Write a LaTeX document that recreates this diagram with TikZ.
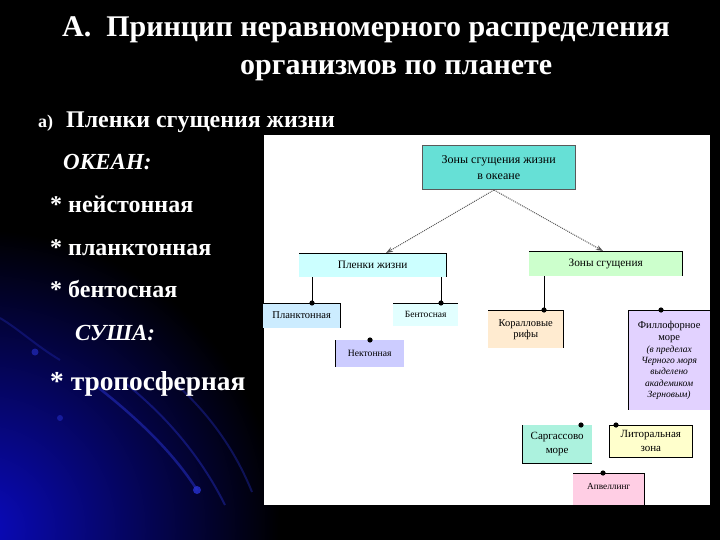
\documentclass[tikz,border=0pt]{standalone}
\usepackage{fontspec}
\setmainfont{Liberation Serif}
\usetikzlibrary{arrows.meta}
\definecolor{cTop}{RGB}{102,224,214}
\definecolor{cPlenki}{RGB}{204,255,255}
\definecolor{cZony}{RGB}{204,255,204}
\definecolor{cPlank}{RGB}{204,236,255}
\definecolor{cBentos}{RGB}{226,255,255}
\definecolor{cNekt}{RGB}{204,204,255}
\definecolor{cKoral}{RGB}{255,235,208}
\definecolor{cFillo}{RGB}{226,210,255}
\definecolor{cSarg}{RGB}{172,242,222}
\definecolor{cLitor}{RGB}{255,255,204}
\definecolor{cApvel}{RGB}{255,206,228}
\definecolor{glow}{RGB}{10,10,190}
\definecolor{arcblue}{RGB}{40,50,210}
\tikzset{
  bx/.style={anchor=north west, inner sep=0pt, align=center, font=\fontsize{9}{11}\selectfont},
  edge/.style={draw=black, line width=0.7pt},
  conn/.style={draw=black, line width=0.9pt},
  dconn/.style={draw=black, line width=0.5pt, double=white, double distance=1.3pt},
  arr/.style={draw=black!65, line width=1pt, densely dotted, -{Stealth[length=7pt,width=5pt]}},
  dotm/.style={fill=black},
  head/.style={text=white, font=\bfseries, anchor=base west, inner sep=0pt}
}
\begin{document}
\begin{tikzpicture}[x=1pt,y=-1pt]
\useasboundingbox (0,0) rectangle (720,540);
% background
\fill[black] (0,0) rectangle (720,540);
\begin{scope}
\clip (0,0) rectangle (720,540);
\shade[inner color=glow, outer color=black] (-20,530) circle (300);
\draw[arcblue, opacity=0.5, line width=2.5pt] (95,385) .. controls (140,420) and (175,455) .. (197,490);
\draw[arcblue, opacity=0.4, line width=2pt] (125,383) .. controls (165,415) and (200,455) .. (225,505);
\draw[arcblue, opacity=0.35, line width=2pt] (175,383) .. controls (210,415) and (235,450) .. (252,492);
\draw[arcblue, opacity=0.3, line width=2pt] (0,318) .. controls (20,330) and (35,345) .. (60,360);
\fill[arcblue, opacity=0.8] (197,490) circle (4);
\fill[arcblue, opacity=0.6] (35,352) circle (3.5);
\fill[arcblue, opacity=0.5] (60,418) circle (3);
\end{scope}
% left texts
\node[head, font=\fontsize{30}{32}\bfseries\selectfont] (t1) at (62,37) {А.\ \ Принцип неравномерного распределения};
\node[head, font=\fontsize{30}{32}\bfseries\selectfont] (t2) at (240,75) {организмов по планете};
\node[head, font=\fontsize{18}{20}\bfseries\selectfont] (t3) at (38,128) {а)};
\node[head, font=\fontsize{23.9}{25}\bfseries\selectfont] (t4) at (66,128) {Пленки сгущения жизни};
\node[head, font=\fontsize{23}{25}\bfseries\itshape\selectfont] (t5) at (63,170) {ОКЕАН:};
\node[head, font=\fontsize{24}{26}\bfseries\selectfont] (t6) at (50,213) {* нейстонная};
\node[head, font=\fontsize{24}{26}\bfseries\selectfont] (t7) at (50,255) {* планктонная};
\node[head, font=\fontsize{24}{26}\bfseries\selectfont] (t8) at (50,297) {* бентосная};
\node[head, font=\fontsize{23}{25}\bfseries\itshape\selectfont] (t9) at (75,340) {СУША:};
\node[head, font=\fontsize{27.4}{29}\bfseries\selectfont] (t10) at (50,390) {* тропосферная};
% white panel
\fill[white] (264,135) rectangle (710,505);
% boxes
\node[bx, fill=cTop, draw=black!65, minimum width=153pt, minimum height=44pt, font=\fontsize{12}{16}\selectfont] (top) at (422,145) {\raisebox{2pt}{\parbox{150pt}{\centering Зоны сгущения жизни\\в океане}}};
\node[bx, fill=cPlenki, minimum width=147pt, minimum height=24pt, font=\fontsize{11.3}{13}\selectfont] (plenki) at (299,253) {Пленки жизни};
\node[bx, fill=cZony, minimum width=153pt, minimum height=25pt, font=\fontsize{11.3}{13}\selectfont] (zony) at (529,251) {\raisebox{1pt}{Зоны сгущения}};
\node[bx, fill=cPlank, minimum width=77pt, minimum height=25pt, font=\fontsize{10.5}{12}\selectfont] (plank) at (263,303) {\raisebox{2pt}{Планктонная}};
\node[bx, fill=cBentos, minimum width=65pt, minimum height=23pt, font=\fontsize{9.5}{11}\selectfont] (bentos) at (393,303) {\raisebox{1pt}{Бентосная}};
\node[bx, fill=cNekt, minimum width=69pt, minimum height=27pt, font=\fontsize{9.6}{11}\selectfont] (nekt) at (335,340) {\raisebox{1pt}{Нектонная}};
\node[bx, fill=cKoral, minimum width=75pt, minimum height=38pt, font=\fontsize{10.5}{11}\selectfont] (koral) at (488,310) {\raisebox{2pt}{\parbox{73pt}{\centering Коралловые\\рифы}}};
\node[bx, fill=cFillo, minimum width=82pt, minimum height=100pt, font=\fontsize{10.5}{12.5}\selectfont] (fillo) at (628,310) {\raisebox{4pt}{\parbox{80pt}{\centering Филлофорное\\море\\\fontsize{9.5}{11.3}\selectfont\itshape (в пределах\\Черного моря\\выделено\\академиком\\Зерновым)}}};
\node[bx, fill=cSarg, minimum width=70pt, minimum height=38pt, font=\fontsize{11}{14}\selectfont] (sarg) at (522,425) {\raisebox{2pt}{\parbox{68pt}{\centering Саргассово\\море}}};
\node[bx, fill=cLitor, draw=black, line width=0.6pt, minimum width=83pt, minimum height=32pt, font=\fontsize{11}{14}\selectfont] (litor) at (609,425) {Литоральная\\зона};
\node[bx, fill=cApvel, minimum width=71pt, minimum height=32pt, font=\fontsize{9.3}{11}\selectfont] (apvel) at (573,473) {\raisebox{5pt}{Апвеллинг}};
% box edges
\draw[edge] (plenki.north west) -- (plenki.north east) -- (plenki.south east);
\draw[edge] (zony.north west) -- (zony.north east) -- (zony.south east);
\draw[edge] (plank.north west) -- (plank.north east) -- (plank.south east);
\draw[edge] (bentos.north west) -- (bentos.north east);
\draw[edge] (nekt.north west) -- (nekt.south west);
\draw[edge] (koral.north west) -- (koral.north east) -- (koral.south east);
\draw[edge] (fillo.north east) -- (fillo.north west) -- (fillo.south west);
\draw[edge] (sarg.north west) -- (sarg.south west) -- (sarg.south east);
\draw[edge] (apvel.north west) -- (apvel.north east) -- (apvel.south east);
% arrows from top box
\coordinate (ta) at (494,190);
\draw[arr] (ta) -- (plenki.north -| 386,0);
\draw[arr] (ta) -- (zony.north -| 603,0);
% connectors with dots
\coordinate (dPlank) at (312,303);
\coordinate (dBentos) at (441,303);
\coordinate (dNekt) at (370,340);
\coordinate (dKoral) at (544,310);
\coordinate (dSarg) at (581,425);
\coordinate (dApvel) at (603,473);
\coordinate (dFillo) at (661,310);
\coordinate (dLitor) at (616,425);
\draw[conn] (dPlank |- plenki.south) -- (dPlank);
\draw[conn] (dBentos |- plenki.south) -- (dBentos);
\draw[conn] (dKoral |- zony.south) -- (dKoral);
\draw[dconn] (dSarg |- zony.south) -- (dSarg);
\draw[dconn] (dApvel |- zony.south) -- (dApvel);
\foreach \d in {dPlank,dBentos,dNekt,dKoral,dSarg,dApvel,dFillo,dLitor}
  \fill[dotm] (\d) circle (2.6);
\end{tikzpicture}
\end{document}
